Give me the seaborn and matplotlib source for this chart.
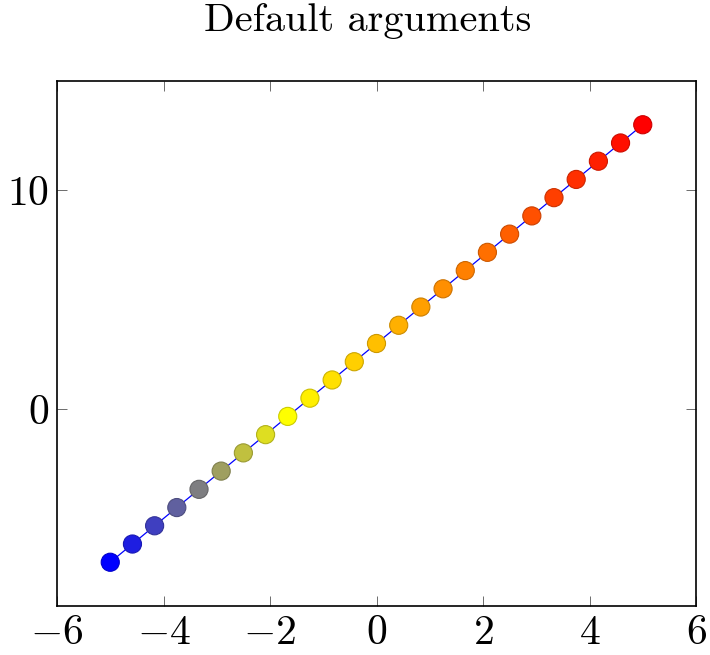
import numpy as np
import pandas as pd
import matplotlib
matplotlib.use("Agg")
import matplotlib.pyplot as plt
import seaborn as sns
from matplotlib.colors import LinearSegmentedColormap, to_rgb

# samples of y = 2x + 3 (25 points)
x_vals = [-5.0, -4.583, -4.167, -3.75, -3.333, -2.917, -2.5, -2.083, -1.667,
          -1.25, -0.833, -0.417, 0.0, 0.417, 0.833, 1.25, 1.667, 2.083, 2.5,
          2.917, 3.333, 3.75, 4.167, 4.583, 5.0]
y_vals = [-7.0, -6.167, -5.333, -4.5, -3.667, -2.833, -2.0, -1.167, -0.333,
          0.5, 1.333, 2.167, 3.0, 3.833, 4.667, 5.5, 6.333, 7.167, 8.0,
          8.833, 9.667, 10.5, 11.333, 12.167, 13.0]
x_ticks = [-6, -4, -2, 0, 2, 4, 6]
y_ticks = [0, 10]

df = pd.DataFrame({"x": x_vals, "y": y_vals})

# pgfplots "hot" colormap: blue -> yellow -> orange -> red, evenly spaced
hot = LinearSegmentedColormap.from_list(
    "pgf_hot", [(0, 0, 1), (1, 1, 0), (1, 0.5, 0), (1, 0, 0)])
norm = plt.Normalize(min(y_vals), max(y_vals))
face = [hot(norm(v)) for v in y_vals]
edge = [tuple(0.8 * c for c in to_rgb(f)) for f in face]

sns.set_style("ticks")
plt.rcParams["mathtext.fontset"] = "cm"
plt.rcParams["font.family"] = ["cmr10", "DejaVu Serif"]
plt.rcParams["axes.unicode_minus"] = False
plt.rcParams["text.color"] = "black"

fig = plt.figure(figsize=(7.1, 6.55), dpi=100)
ax = fig.add_axes([57 / 710, 49 / 655, 639 / 710, 525 / 655])

sns.lineplot(data=df, x="x", y="y", color="blue", linewidth=0.9, ax=ax, zorder=2)
ax.scatter(df["x"], df["y"], s=170, c=face, edgecolors=edge, linewidths=0.8, zorder=3)

ax.set_xlim(-6, 6)
ax.set_ylim(-9, 15)
ax.set_xticks(x_ticks)
ax.set_yticks(y_ticks)
ax.set_xticklabels([f"${t}$" for t in x_ticks], fontsize=30, color="black")
ax.set_yticklabels([f"${t}$" for t in y_ticks], fontsize=30, color="black")
ax.tick_params(direction="in", top=True, right=True, length=7, width=0.6,
               color="#555555", pad=6)
for s in ax.spines.values():
    s.set_linewidth(1.2)
    s.set_color("black")
ax.set_xlabel("")
ax.set_ylabel("")
fig.text(368 / 710, 1 - 21 / 655, "Default arguments", ha="center", va="center",
         fontsize=29, color="black")

fig.savefig("out.png", dpi=100)
